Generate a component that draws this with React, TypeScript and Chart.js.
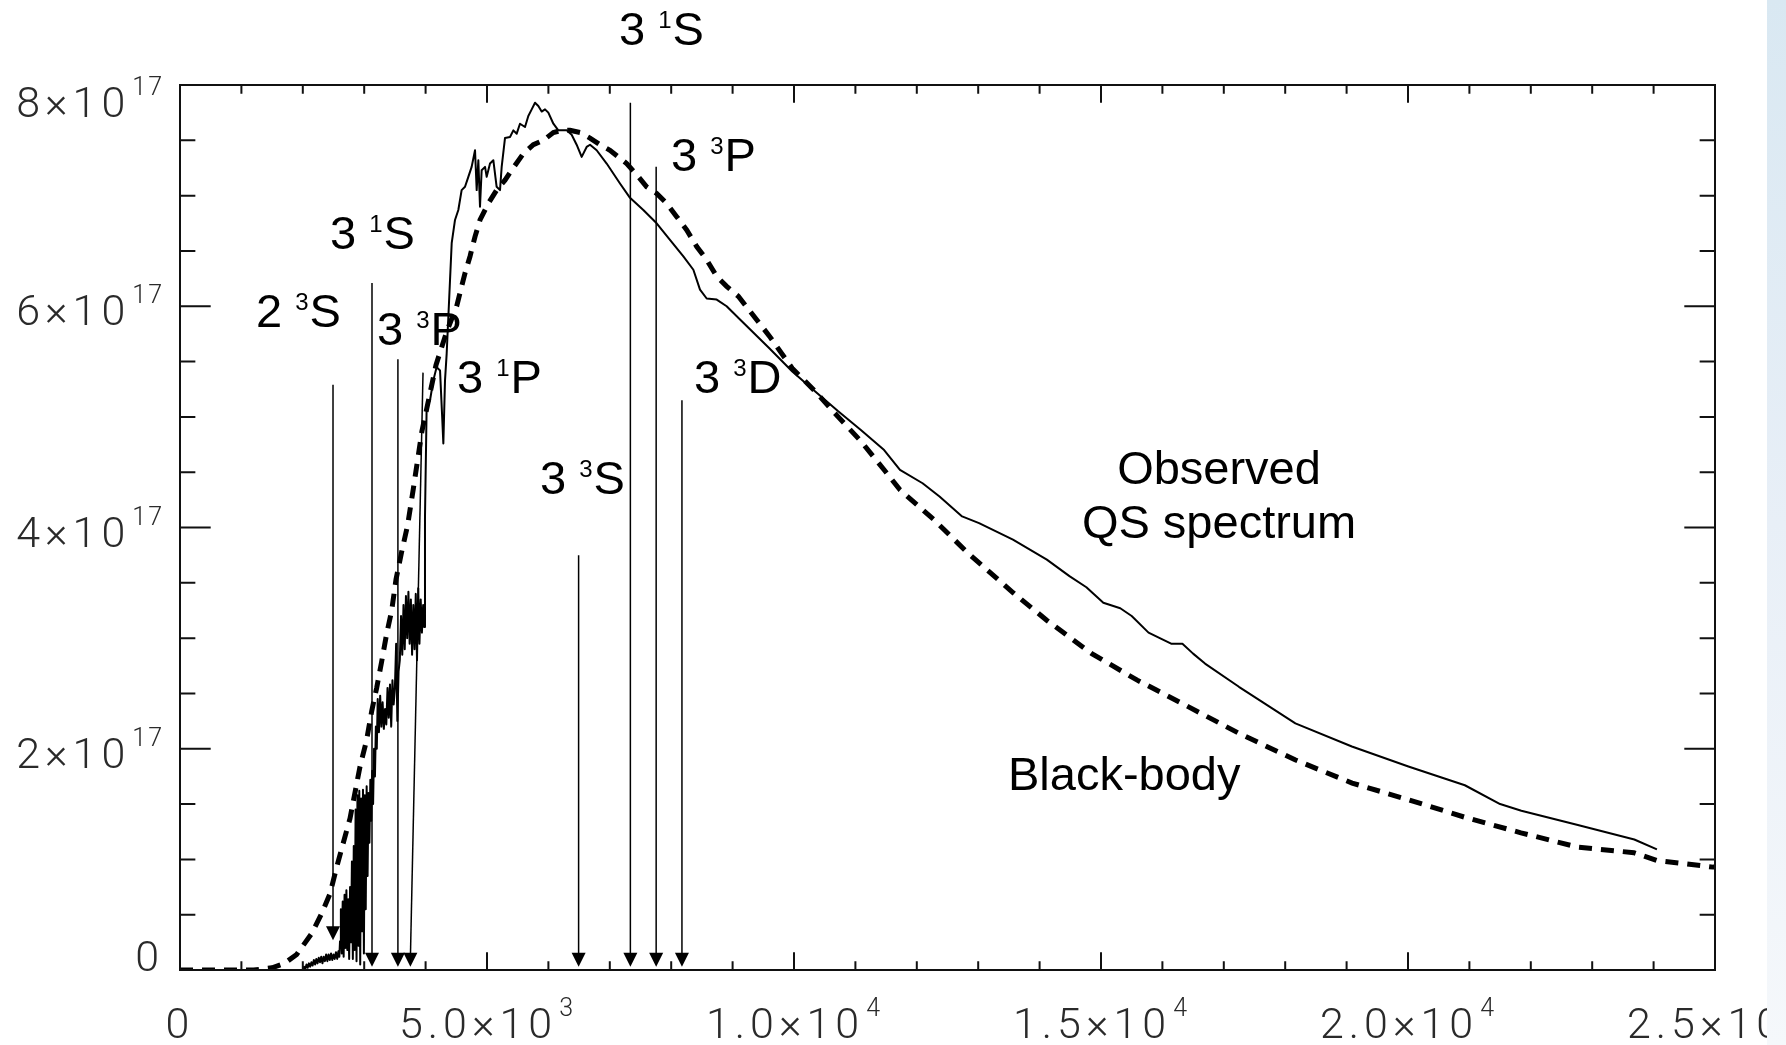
import React, { useEffect, useRef } from "react";
import { Chart, registerables } from "chart.js";

Chart.register(...registerables);

// ---------- data (y values in units of 1e17) ----------
const X_MIN = 0;
const X_MAX = 25000;
const Y_MIN = 0;
const Y_MAX = 8;

const observed: [number, number][] = [
  [0, 0], [1000, 0], [2000, 0], [2020, 0.03], [2040, 0.01], [2060, 0.05], [2080, 0.02], [2100, 0.06],
  [2120, 0.03], [2140, 0.07], [2160, 0.04], [2180, 0.09], [2200, 0.05], [2220, 0.1], [2240, 0.06],
  [2260, 0.11], [2280, 0.07], [2300, 0.12], [2320, 0.06], [2340, 0.12], [2360, 0.08], [2380, 0.14],
  [2400, 0.08], [2420, 0.14], [2440, 0.09], [2460, 0.15], [2480, 0.09], [2500, 0.14], [2520, 0.1],
  [2540, 0.16], [2560, 0.1], [2580, 0.17], [2595, 0.12], [2606, 0.26],
  [2620, 0.55], [2635, 0.15], [2650, 0.62], [2665, 0.12], [2680, 0.68], [2695, 0.2], [2710, 0.72],
  [2725, 0.18], [2740, 0.64], [2755, 0.1], [2770, 0.75], [2785, 0.25], [2800, 0.98], [2815, 0.1],
  [2830, 1.12], [2845, 0.18], [2860, 1.45], [2875, 0.08], [2890, 1.58], [2905, 0.22], [2920, 1.62],
  [2935, 0.05], [2950, 1.55], [2965, 0.35], [2980, 1.63], [2995, 0.15], [3010, 1.58], [3025, 0.55],
  [3040, 1.66], [3055, 0.85], [3070, 1.6], [3085, 1.15], [3100, 1.72], [3115, 1.35], [3130, 1.8],
  [3145, 1.5], [3160, 2.0], [3175, 1.75], [3190, 2.2], [3205, 2.0], [3220, 2.45], [3240, 2.15],
  [3260, 2.48], [3280, 2.2], [3300, 2.42], [3320, 2.18], [3340, 2.36], [3360, 2.22], [3380, 2.55],
  [3400, 2.28], [3420, 2.58], [3440, 2.2], [3460, 2.62], [3480, 2.4], [3500, 2.55], [3520, 2.95],
  [3540, 2.25], [3560, 2.7], [3580, 2.8], [3600, 3.2], [3620, 2.85], [3640, 3.3], [3660, 2.9],
  [3680, 3.38], [3700, 3.0], [3720, 3.42], [3740, 2.95], [3760, 3.35], [3780, 2.85], [3800, 3.3],
  [3820, 2.9], [3840, 3.4], [3860, 2.8], [3880, 3.45], [3900, 2.95], [3920, 3.35], [3940, 3.05],
  [3960, 3.3], [3975, 3.1], [3990, 4.1], [4017, 5.09], [4072, 5.15], [4126, 5.33], [4180, 5.45],
  [4235, 5.42], [4270, 5.0], [4289, 4.76], [4316, 5.33], [4343, 5.57], [4398, 6.24], [4425, 6.57],
  [4479, 6.78], [4533, 6.87], [4587, 7.05], [4642, 7.08], [4696, 7.17], [4750, 7.26], [4805, 7.41],
  [4832, 7.05], [4859, 7.32], [4886, 6.9], [4913, 7.23], [4968, 7.26], [4995, 7.17], [5049, 7.29],
  [5103, 7.32], [5157, 7.08], [5212, 7.05], [5239, 7.26], [5293, 7.52], [5375, 7.53], [5429, 7.59],
  [5484, 7.56], [5537, 7.65], [5619, 7.62], [5673, 7.72], [5728, 7.78], [5782, 7.84], [5836, 7.81],
  [5890, 7.76], [5945, 7.78], [5999, 7.75], [6081, 7.65], [6162, 7.59], [6298, 7.59], [6379, 7.55],
  [6460, 7.46], [6542, 7.35], [6623, 7.44], [6678, 7.46], [6786, 7.41], [6949, 7.29], [7166, 7.11],
  [7329, 6.98], [7546, 6.87], [7763, 6.75], [7980, 6.6], [8198, 6.45], [8361, 6.33], [8469, 6.15],
  [8578, 6.07], [8741, 6.06], [8903, 6.0], [9121, 5.88], [9598, 5.62], [9972, 5.41], [10346, 5.23],
  [10720, 5.05], [11094, 4.88], [11468, 4.7], [11726, 4.52], [12094, 4.4], [12370, 4.28],
  [12738, 4.1], [13014, 4.04], [13566, 3.89], [14118, 3.71], [14486, 3.56], [14762, 3.46],
  [15038, 3.32], [15314, 3.27], [15500, 3.2], [15774, 3.05], [16142, 2.95], [16326, 2.95],
  [16500, 2.86], [16694, 2.77], [17246, 2.56], [18166, 2.23], [19086, 2.02], [20006, 1.84],
  [20926, 1.67], [21500, 1.5], [21846, 1.44], [22766, 1.31], [23686, 1.18], [24054, 1.09],
];

const blackBody: [number, number][] = [
  [0, 0], [1200, 0], [1500, 0.02], [1700, 0.06], [1900, 0.14], [2145, 0.33], [2307, 0.51],
  [2443, 0.69], [2552, 0.93], [2660, 1.15], [2769, 1.37], [2932, 1.84], [3040, 2.08], [3122, 2.34],
  [3203, 2.55], [3285, 2.79], [3366, 3.04], [3448, 3.25], [3518, 3.53], [3610, 3.78], [3707, 4.02],
  [3800, 4.35], [3940, 4.87], [4170, 5.47], [4343, 5.77], [4506, 6.0], [4560, 6.12], [4642, 6.3],
  [4723, 6.45], [4805, 6.63], [4886, 6.78], [5022, 6.93], [5157, 7.05], [5293, 7.14], [5402, 7.23],
  [5592, 7.38], [5755, 7.46], [5917, 7.5], [6081, 7.57], [6216, 7.59], [6352, 7.59], [6515, 7.57],
  [6678, 7.52], [6840, 7.46], [7003, 7.41], [7139, 7.35], [7275, 7.29], [7437, 7.19], [7600, 7.08],
  [7763, 7.02], [7926, 6.93], [8089, 6.81], [8252, 6.69], [8415, 6.54], [8578, 6.42], [8741, 6.27],
  [8903, 6.18], [9093, 6.09], [9600, 5.73], [9970, 5.44], [10345, 5.23], [10720, 5.0], [11090, 4.78],
  [11470, 4.52], [11726, 4.34], [12280, 4.07], [12830, 3.77], [13570, 3.41], [14120, 3.16],
  [14850, 2.86], [15590, 2.62], [16320, 2.41], [17245, 2.14], [18160, 1.9], [19090, 1.69],
  [20000, 1.54], [20930, 1.38], [21840, 1.24], [22770, 1.11], [23680, 1.06], [24050, 0.99],
  [24970, 0.93], [25000, 0.93],
];

// tick labels
const xTickValues = [0, 5000, 10000, 15000, 20000, 25000];
const xTickMain = ["0", "5.0×10", "1.0×10", "1.5×10", "2.0×10", "2.5×10"];
const xTickSup = ["", "3", "4", "4", "4", "4"];
const xMinorStep = 1000;

const yTickValues = [0, 2, 4, 6, 8];
const yTickMain = ["0", "2×10", "4×10", "6×10", "8×10"];
const yTickSup = ["", "17", "17", "17", "17"];
const yMinorStep = 0.5;

// transition markers: label parts, label anchor (data), arrow top and tip (data)
const lineLevel = ["2", "3", "3", "3", "3", "3", "3", "3"];
const lineSpin = ["3", "1", "3", "1", "3", "1", "3", "3"];
const lineTerm = ["S", "S", "P", "P", "S", "S", "P", "D"];
const labelX = [1238, 2443, 3208, 4511, 5863, 7150, 7997, 8371];
const labelY = [5.81, 6.52, 5.65, 5.22, 4.3, 8.36, 7.22, 5.22];
const arrowTopX = [2492, 3127, 3549, 3958, 6492, 7335, 7755, 8175];
const arrowTopY = [5.29, 6.21, 5.52, 5.4, 3.75, 7.84, 7.26, 5.15];
const arrowTipX = [2492, 3127, 3549, 3752, 6492, 7335, 7755, 8175];
const arrowTipY = [0.27, 0.03, 0.03, 0.03, 0.03, 0.03, 0.03, 0.03];

// curve captions (data anchors)
const captionText = ["Observed", "QS spectrum", "Black-body"];
const captionX = [16922, 16922, 13485];
const captionY = [4.39, 3.905, 1.627];
const captionAlign: CanvasTextAlign[] = ["center", "center", "left"];

// ---------- drawing helpers ----------
const TICK_FONT = '300 43px "Roboto", "DejaVu Sans", sans-serif';
const TICK_SUP_FONT = '300 25px "Roboto", "DejaVu Sans", sans-serif';
const TICK_COLOR = "#2a2a2a";
const ANN_FONT = '47px "Liberation Sans", Arial, sans-serif';
const ANN_SUP_FONT = '24px "Liberation Sans", Arial, sans-serif';

function setSpacing(ctx: any, px: number) {
  if ("letterSpacing" in ctx) ctx.letterSpacing = px + "px";
}

function drawTickLabel(
  ctx: CanvasRenderingContext2D,
  main: string,
  sup: string,
  x: number,
  baseline: number,
  align: "right" | "center"
) {
  ctx.save();
  ctx.fillStyle = TICK_COLOR;
  ctx.textAlign = "left";
  ctx.textBaseline = "alphabetic";
  ctx.font = TICK_FONT;
  setSpacing(ctx, 5);
  const wMain = ctx.measureText(main).width;
  ctx.font = TICK_SUP_FONT;
  setSpacing(ctx, 2);
  const wSup = sup ? ctx.measureText(sup).width + 2 : 0;
  const total = wMain + wSup;
  const left = align === "right" ? x - total : x - total / 2;
  ctx.font = TICK_FONT;
  setSpacing(ctx, 5);
  ctx.fillText(main, left, baseline);
  if (sup) {
    ctx.font = TICK_SUP_FONT;
    setSpacing(ctx, 2);
    ctx.fillText(sup, left + wMain + 2, baseline - 22);
  }
  ctx.restore();
}

function drawAnnotation(
  ctx: CanvasRenderingContext2D,
  lead: string,
  sup: string,
  tail: string,
  x: number,
  baseline: number
) {
  ctx.save();
  ctx.fillStyle = "#000";
  ctx.textAlign = "left";
  ctx.textBaseline = "alphabetic";
  ctx.font = ANN_FONT;
  ctx.fillText(lead, x, baseline);
  const w1 = ctx.measureText(lead).width;
  ctx.font = ANN_SUP_FONT;
  ctx.fillText(sup, x + w1, baseline - 17);
  const w2 = ctx.measureText(sup).width;
  ctx.font = ANN_FONT;
  ctx.fillText(tail, x + w1 + w2 + 1, baseline);
  ctx.restore();
}

const figurePlugin = {
  id: "figurePlugin",
  beforeDraw(chart: any) {
    const ctx = chart.ctx as CanvasRenderingContext2D;
    ctx.save();
    ctx.fillStyle = "#ffffff";
    ctx.fillRect(0, 0, chart.width, chart.height);
    ctx.restore();
  },
  afterDatasetsDraw(chart: any) {
    const ctx = chart.ctx as CanvasRenderingContext2D;
    const xs = chart.scales.x;
    const ys = chart.scales.y;
    const { left, right, top, bottom } = chart.chartArea;

    // arrows
    ctx.save();
    ctx.strokeStyle = "#000";
    ctx.fillStyle = "#000";
    ctx.lineWidth = 1.5;
    for (let i = 0; i < arrowTopX.length; i++) {
      const x0 = xs.getPixelForValue(arrowTopX[i]);
      const y0 = ys.getPixelForValue(arrowTopY[i]);
      const x1 = xs.getPixelForValue(arrowTipX[i]);
      const y1 = ys.getPixelForValue(arrowTipY[i]);
      ctx.beginPath();
      ctx.moveTo(x0, y0);
      ctx.lineTo(x1, y1 - 8);
      ctx.stroke();
      ctx.beginPath();
      ctx.moveTo(x1, y1);
      ctx.lineTo(x1 - 7, y1 - 14);
      ctx.lineTo(x1 + 7, y1 - 14);
      ctx.closePath();
      ctx.fill();
    }
    ctx.restore();

    // frame
    ctx.save();
    ctx.strokeStyle = "#111";
    ctx.lineWidth = 2;
    ctx.strokeRect(left, top, right - left, bottom - top);

    // ticks on all four sides, pointing inward
    const h = bottom - top;
    const w = right - left;
    const xMajLen = 0.02 * h;
    const yMajLen = 0.02 * w;
    ctx.beginPath();
    for (let v = X_MIN; v <= X_MAX + 1e-6; v += xMinorStep) {
      const px = xs.getPixelForValue(v);
      const major = xTickValues.includes(v);
      const len = major ? xMajLen : xMajLen / 2;
      ctx.moveTo(px, bottom);
      ctx.lineTo(px, bottom - len);
      ctx.moveTo(px, top);
      ctx.lineTo(px, top + len);
    }
    for (let v = Y_MIN; v <= Y_MAX + 1e-6; v += yMinorStep) {
      const py = ys.getPixelForValue(v);
      const major = yTickValues.includes(v);
      const len = major ? yMajLen : yMajLen / 2;
      ctx.moveTo(left, py);
      ctx.lineTo(left + len, py);
      ctx.moveTo(right, py);
      ctx.lineTo(right - len, py);
    }
    ctx.stroke();
    ctx.restore();
  },
  afterDraw(chart: any) {
    const ctx = chart.ctx as CanvasRenderingContext2D;
    const xs = chart.scales.x;
    const ys = chart.scales.y;
    const { left, top, bottom } = chart.chartArea;

    // y tick labels
    for (let i = 0; i < yTickValues.length; i++) {
      const py = ys.getPixelForValue(yTickValues[i]);
      let baseline = py + 19;
      if (i === yTickValues.length - 1) baseline = top + 32;
      if (i === 0) baseline = bottom + 1;
      drawTickLabel(ctx, yTickMain[i], yTickSup[i], left - 16, baseline, "right");
    }
    // x tick labels
    for (let i = 0; i < xTickValues.length; i++) {
      const px = xs.getPixelForValue(xTickValues[i]);
      drawTickLabel(ctx, xTickMain[i], xTickSup[i], px, bottom + 68, "center");
    }

    // transition labels
    for (let i = 0; i < labelX.length; i++) {
      drawAnnotation(
        ctx,
        lineLevel[i] + " ",
        lineSpin[i],
        lineTerm[i],
        xs.getPixelForValue(labelX[i]),
        ys.getPixelForValue(labelY[i])
      );
    }

    // captions
    ctx.save();
    ctx.fillStyle = "#000";
    ctx.font = ANN_FONT;
    ctx.textBaseline = "alphabetic";
    for (let i = 0; i < captionText.length; i++) {
      ctx.textAlign = captionAlign[i];
      ctx.fillText(captionText[i], xs.getPixelForValue(captionX[i]), ys.getPixelForValue(captionY[i]));
    }
    ctx.restore();

    // light blue slide strip at right edge
    ctx.save();
    const sx = chart.width - 19;
    const g = ctx.createLinearGradient(0, 0, 0, chart.height);
    g.addColorStop(0, "#d9e8f2");
    g.addColorStop(0.5, "#e8eff7");
    g.addColorStop(1, "#f5f8fb");
    ctx.fillStyle = g;
    ctx.fillRect(sx, 0, chart.width - sx, chart.height);
    ctx.restore();
  },
};

export default function App() {
  const canvasRef = useRef<HTMLCanvasElement | null>(null);

  useEffect(() => {
    document.body.style.margin = "0";
    const canvas = canvasRef.current;
    if (!canvas) return;
    const chart = new Chart(canvas, {
      type: "scatter",
      data: {
        datasets: [
          {
            label: "Observed QS spectrum",
            data: observed.map(([x, y]) => ({ x, y })),
            showLine: true,
            borderColor: "#000",
            borderWidth: 2,
            pointRadius: 0,
            tension: 0,
            borderJoinStyle: "round",
            order: 1,
          },
          {
            label: "Black-body",
            data: blackBody.map(([x, y]) => ({ x, y })),
            showLine: true,
            borderColor: "#000",
            borderWidth: 5,
            borderDash: [13, 9],
            borderCapStyle: "butt",
            pointRadius: 0,
            tension: 0,
            order: 2,
          },
        ],
      },
      options: {
        animation: false,
        responsive: false,
        devicePixelRatio: 1,
        layout: { padding: { left: 180, right: 71, top: 85, bottom: 75 } },
        plugins: {
          legend: { display: false },
          tooltip: { enabled: false },
          title: { display: false },
        },
        events: [],
        scales: {
          x: { type: "linear", display: false, min: X_MIN, max: X_MAX },
          y: { type: "linear", display: false, min: Y_MIN, max: Y_MAX },
        },
      },
      plugins: [figurePlugin],
    });
    return () => chart.destroy();
  }, []);

  return (
    <div style={{ width: 1786, height: 1045, background: "#fff" }}>
      <canvas ref={canvasRef} width={1786} height={1045} style={{ display: "block" }} />
    </div>
  );
}
